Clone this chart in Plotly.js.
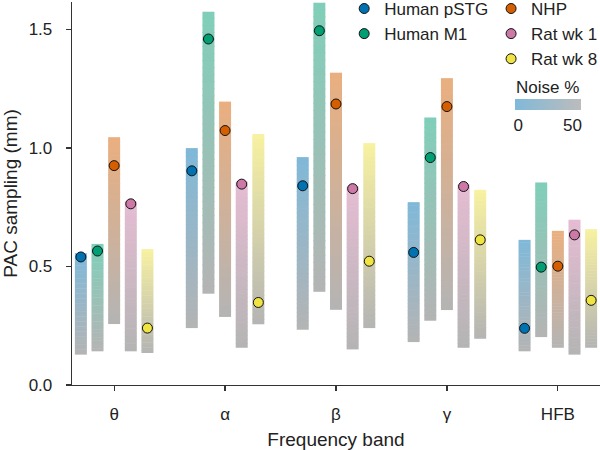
<!DOCTYPE html>
<html><head><meta charset="utf-8">
<script src="https://cdn.plot.ly/plotly-3.0.1.min.js"></script>
<style>html,body{margin:0;padding:0;background:#fff}#chart{width:600px;height:450px}</style>
</head><body><div id="chart"></div>
<script>
// ---- data ----
const bands = ['θ', 'α', 'β', 'γ', 'HFB'];
const seriesNames = ['Human pSTG', 'Human M1', 'NHP', 'Rat wk 1', 'Rat wk 8'];
// bar top (0% noise) and bar bottom (50% noise), in mm
const top_pSTG = [0.556, 0.999, 0.961, 0.771, 0.612];
const bot_pSTG = [0.128, 0.240, 0.233, 0.181, 0.142];
const dot_pSTG = [0.540, 0.903, 0.840, 0.559, 0.239];
const top_M1 = [0.595, 1.574, 1.612, 1.128, 0.854];
const bot_M1 = [0.142, 0.385, 0.393, 0.271, 0.202];
const dot_M1 = [0.565, 1.459, 1.494, 0.959, 0.497];
const top_NHP = [1.045, 1.195, 1.317, 1.294, 0.650];
const bot_NHP = [0.257, 0.287, 0.317, 0.316, 0.157];
const dot_NHP = [0.925, 1.073, 1.185, 1.174, 0.501];
const top_R1 = [0.774, 0.858, 0.837, 0.845, 0.697];
const bot_R1 = [0.142, 0.157, 0.150, 0.157, 0.128];
const dot_R1 = [0.764, 0.847, 0.828, 0.837, 0.633];
const top_R8 = [0.573, 1.058, 1.020, 0.823, 0.657];
const bot_R8 = [0.135, 0.256, 0.240, 0.195, 0.157];
const dot_R8 = [0.240, 0.348, 0.522, 0.612, 0.357];
const noiseTicks = [0, 50];

// ---- styles ----
const tops = [top_pSTG, top_M1, top_NHP, top_R1, top_R8];
const bots = [bot_pSTG, bot_M1, bot_NHP, bot_R1, bot_R8];
const dots = [dot_pSTG, dot_M1, dot_NHP, dot_R1, dot_R8];
const baseColors = [[0,114,178],[0,158,115],[213,94,0],[204,121,167],[240,228,66]];
const grey = [180,180,180];
const legendOf = ['legend','legend','legend2','legend2','legend2'];
const FONT = '"Liberation Sans", Arial, Helvetica, sans-serif';
const TXT = '#222';

function pastel(c){ return c.map(v => v + (255 - v) * 0.5); }
function mix(a, b, t){ return 'rgb(' + a.map((v,i)=>Math.round(v + (b[i]-v)*t)).join(',') + ')'; }
function hex(c){ return 'rgb(' + c.join(',') + ')'; }

const N = 40;
const traces = [];
for (let s = 0; s < 5; s++) {
  const xs = [], bases = [], hs = [], cols = [];
  const top = pastel(baseColors[s]);
  for (let b = 0; b < bands.length; b++) {
    const lo = bots[s][b], hi = tops[s][b], h = (hi - lo) / N;
    for (let k = 0; k < N; k++) {
      xs.push(bands[b]);
      bases.push(lo + k * h);
      hs.push(k === N - 1 ? h : h * 1.15);
      cols.push(mix(grey, top, (k + 0.5) / N));
    }
  }
  traces.push({
    type: 'bar', x: xs, y: hs, base: bases, offsetgroup: String(s),
    marker: {color: cols, line: {width: 0}},
    showlegend: false, hoverinfo: 'skip'
  });
}
for (let s = 0; s < 5; s++) {
  traces.push({
    type: 'scatter', mode: 'markers', x: bands, y: dots[s], name: seriesNames[s],
    offsetgroup: String(s), legend: legendOf[s],
    marker: {size: 10, color: hex(baseColors[s]), line: {color: '#111', width: 1}},
    hoverinfo: 'skip', cliponaxis: false
  });
}
// colour bar carrier (invisible markers on hidden axes)
traces.push({
  type: 'scatter', mode: 'markers', x: [0, 1], y: [-10, -10], xaxis: 'x2', yaxis: 'y2',
  showlegend: false, hoverinfo: 'skip',
  marker: {
    color: noiseTicks, cmin: -3, cmax: 58, opacity: 0,
    colorscale: [[0, hex(pastel(baseColors[0]))], [1, 'rgb(188,188,188)']],
    showscale: true,
    colorbar: {
      orientation: 'h', x: 0.9016, xanchor: 'center', y: 0.708, yanchor: 'middle',
      lenmode: 'pixels', len: 66, thickness: 11, outlinewidth: 0, ticks: '', ticklen: 0,
      tickvals: noiseTicks, tickfont: {family: FONT, size: 17, color: TXT},
      title: {text: ''},
      xpad: 0, ypad: 0
    }
  }
});

const layout = {
  width: 600, height: 450,
  margin: {l: 72, r: 0, t: 2, b: 65, autoexpand: false},
  paper_bgcolor: '#fff', plot_bgcolor: '#fff',
  font: {family: FONT, size: 17, color: TXT},
  barmode: 'group', bargap: 0.25, bargroupgap: 0.28,
  scattermode: 'group', scattergap: 0.25,
  xaxis: {
    type: 'category', range: [-0.38, 4.38], showgrid: false, zeroline: false,
    showline: true, linecolor: '#333', linewidth: 1.3,
    ticks: 'outside', ticklen: 5, tickwidth: 1.3, tickcolor: '#333',
    ticklabelstandoff: 8, tickfont: {size: 17},
    title: {text: 'Frequency band', font: {size: 19}, standoff: 10}
  },
  yaxis: {
    range: [0, 1.615], showgrid: false, zeroline: false,
    showline: true, linecolor: '#333', linewidth: 1.3,
    ticks: 'outside', ticklen: 5, tickwidth: 1.3, tickcolor: '#333',
    tickvals: [0, 0.5, 1.0, 1.5], tickformat: '.1f', ticklabelstandoff: 10,
    tickfont: {size: 17},
    title: {text: 'PAC sampling (mm)', font: {size: 19}, standoff: 10}
  },
  xaxis2: {visible: false, overlaying: 'x', range: [0, 1]},
  yaxis2: {visible: false, overlaying: 'y', range: [0, 1]},
  legend: {x: 0.5155, xanchor: 'left', y: 1.0288, yanchor: 'top', bgcolor: 'rgba(0,0,0,0)',
           font: {size: 17}, borderwidth: 0},
  legend2: {x: 0.7937, xanchor: 'left', y: 1.0288, yanchor: 'top', bgcolor: 'rgba(0,0,0,0)',
            font: {size: 17}, borderwidth: 0},
  annotations: [{
    text: 'Noise %', xref: 'paper', yref: 'paper', x: 0.9015, y: 0.7755,
    xanchor: 'center', yanchor: 'middle', showarrow: false,
    font: {family: FONT, size: 17, color: TXT}
  }]
};

Plotly.newPlot('chart', traces, layout, {staticPlot: true, displayModeBar: false});
</script>
</body></html>
